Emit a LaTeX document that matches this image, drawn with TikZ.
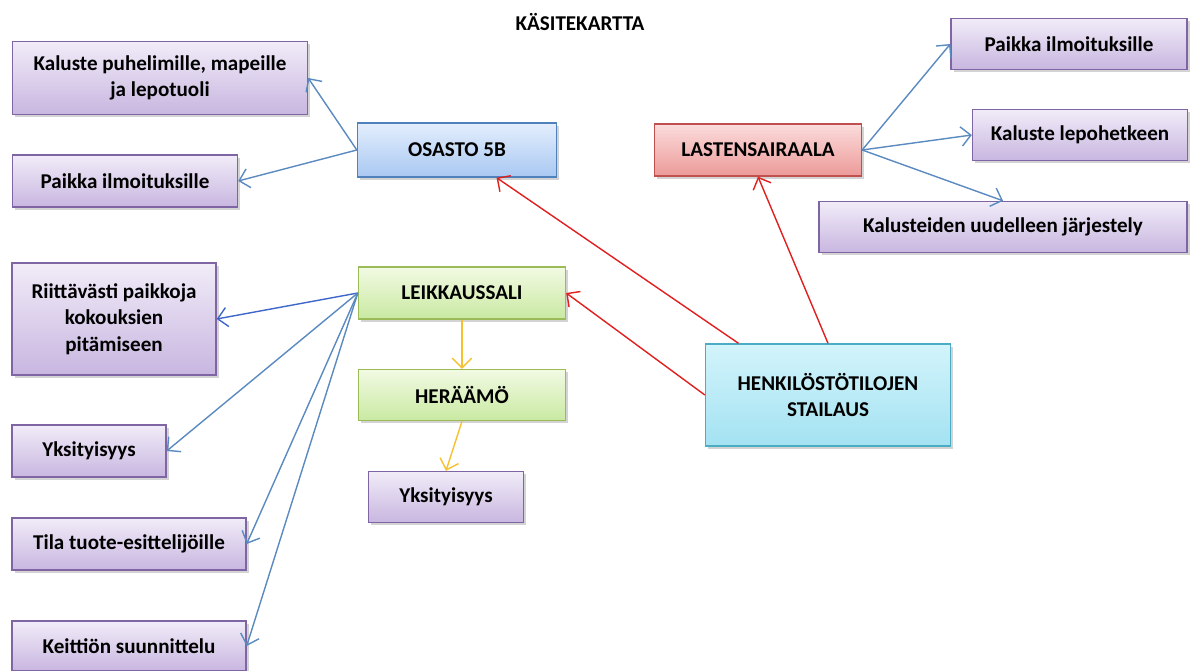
\documentclass[tikz,border=0pt]{standalone}
\usepackage{fontspec}
\setmainfont{Carlito}
\usetikzlibrary{arrows.meta, shadows}
\definecolor{lilareuna}{HTML}{7F65A3}
\definecolor{lilaylla}{HTML}{F1ECF8}
\definecolor{lilaalla}{HTML}{C8B6E0}
\definecolor{sinireuna}{HTML}{4F81BD}
\definecolor{siniylla}{HTML}{E3EEFC}
\definecolor{sinialla}{HTML}{A9C8F2}
\definecolor{punareuna}{HTML}{C0504D}
\definecolor{punaylla}{HTML}{FBDCDC}
\definecolor{punaalla}{HTML}{EC9A98}
\definecolor{vihreareuna}{HTML}{9BBB59}
\definecolor{vihreaylla}{HTML}{F2FAE3}
\definecolor{vihreaalla}{HTML}{C9E9A2}
\definecolor{turkoosireuna}{HTML}{4BACC6}
\definecolor{turkoosiylla}{HTML}{D3F4FB}
\definecolor{turkoosialla}{HTML}{A3E2F2}
\definecolor{nuolisini}{HTML}{5A8AC0}
\definecolor{nuolipuna}{HTML}{E0201E}
\definecolor{nuolikelta}{HTML}{F6C02E}

\begin{document}
\begin{tikzpicture}[x=0.02cm, y=-0.02cm,
  laatikko/.style={draw=lilareuna, line width=0.8pt, top color=lilaylla, bottom color=lilaalla,
    drop shadow={shadow xshift=1.5pt, shadow yshift=-1.5pt, opacity=0.35},
    align=center, inner sep=2pt, font=\fontsize{12}{15}\selectfont\bfseries},
  osasto/.style={laatikko, draw=sinireuna, top color=siniylla, bottom color=sinialla},
  sairaala/.style={laatikko, draw=punareuna, top color=punaylla, bottom color=punaalla},
  sali/.style={laatikko, draw=vihreareuna, top color=vihreaylla, bottom color=vihreaalla},
  tavoite/.style={laatikko, draw=turkoosireuna, top color=turkoosiylla, bottom color=turkoosialla},
  nuoli/.style={line width=0.8pt, -{Straight Barb[length=5.5pt, width=11pt]}},
  sininuoli/.style={nuoli, nuolisini},
  punanuoli/.style={nuoli, nuolipuna},
  keltanuoli/.style={nuoli, nuolikelta}]
\useasboundingbox (0,0) rectangle (1195,671);
\node[font=\fontsize{12}{14}\selectfont\bfseries] (otsikko) at (580,22) {KÄSITEKARTTA};

\node[laatikko, minimum width=5.9cm, minimum height=1.46cm] (kaluste) at (160,78) {Kaluste puhelimille, mapeille\\ja lepotuoli};
\node[laatikko, minimum width=4.5cm, minimum height=1.04cm] (paikkaA) at (125,181) {Paikka ilmoituksille};
\node[osasto, minimum width=3.98cm, minimum height=1.08cm] (osasto) at (457,150) {OSASTO 5B};
\node[sairaala, minimum width=4.14cm, minimum height=1.04cm] (lasten) at (758,150) {LASTENSAIRAALA};
\node[laatikko, minimum width=4.72cm, minimum height=1.02cm] (paikkaB) at (1069,44) {Paikka ilmoituksille};
\node[laatikko, minimum width=4.3cm, minimum height=1.02cm] (lepo) at (1080,135) {Kaluste lepohetkeen};
\node[laatikko, minimum width=7.36cm, minimum height=1.02cm] (jarjestely) at (1003,227) {Kalusteiden uudelleen järjestely};
\node[sali, minimum width=4.14cm, minimum height=1.04cm] (leikkaus) at (462,293) {LEIKKAUSSALI};
\node[sali, minimum width=4.14cm, minimum height=1.02cm] (heraamo) at (462,395) {HERÄÄMÖ};
\node[laatikko, minimum width=3.1cm, minimum height=1.02cm] (yksiB) at (446,497) {Yksityisyys};
\node[tavoite, minimum width=4.9cm, minimum height=2.04cm] (henkilosto) at (828,395) {HENKILÖSTÖTILOJEN\\STAILAUS};
\node[laatikko, minimum width=4.08cm, minimum height=2.24cm] (riittava) at (114,319) {Riittävästi paikkoja\\kokouksien\\pitämiseen};
\node[laatikko, minimum width=3.08cm, minimum height=1.04cm] (yksiA) at (89,451) {Yksityisyys};
\node[laatikko, minimum width=4.68cm, minimum height=1.04cm] (tila) at (129,544) {Tila tuote-esittelijöille};
\node[laatikko, minimum width=4.68cm, minimum height=1.0cm] (keittio) at (129,646) {Keittiön suunnittelu};

\draw[sininuoli] (osasto.west) -- (kaluste.east);
\draw[sininuoli] (osasto.west) -- (paikkaA.east);
\draw[sininuoli] (lasten.east) -- (paikkaB.west);
\draw[sininuoli] (lasten.east) -- (lepo.west);
\draw[sininuoli] (lasten.east) -- (jarjestely.north);
\draw[sininuoli, draw=sinireuna!80!blue] (leikkaus.west) -- (riittava.east);
\draw[sininuoli] (leikkaus.west) -- (yksiA.east);
\draw[sininuoli] (leikkaus.west) -- (tila.east);
\draw[sininuoli] (leikkaus.west) -- (keittio.east);
\draw[punanuoli] (henkilosto.150) -- (osasto.-35);
\draw[punanuoli] (henkilosto.west) -- (leikkaus.east);
\draw[punanuoli] (henkilosto.north) -- (lasten.south);
\draw[keltanuoli] (leikkaus.south) -- (heraamo.north);
\draw[keltanuoli] (heraamo.south) -- (yksiB.north);
\end{tikzpicture}
\end{document}
